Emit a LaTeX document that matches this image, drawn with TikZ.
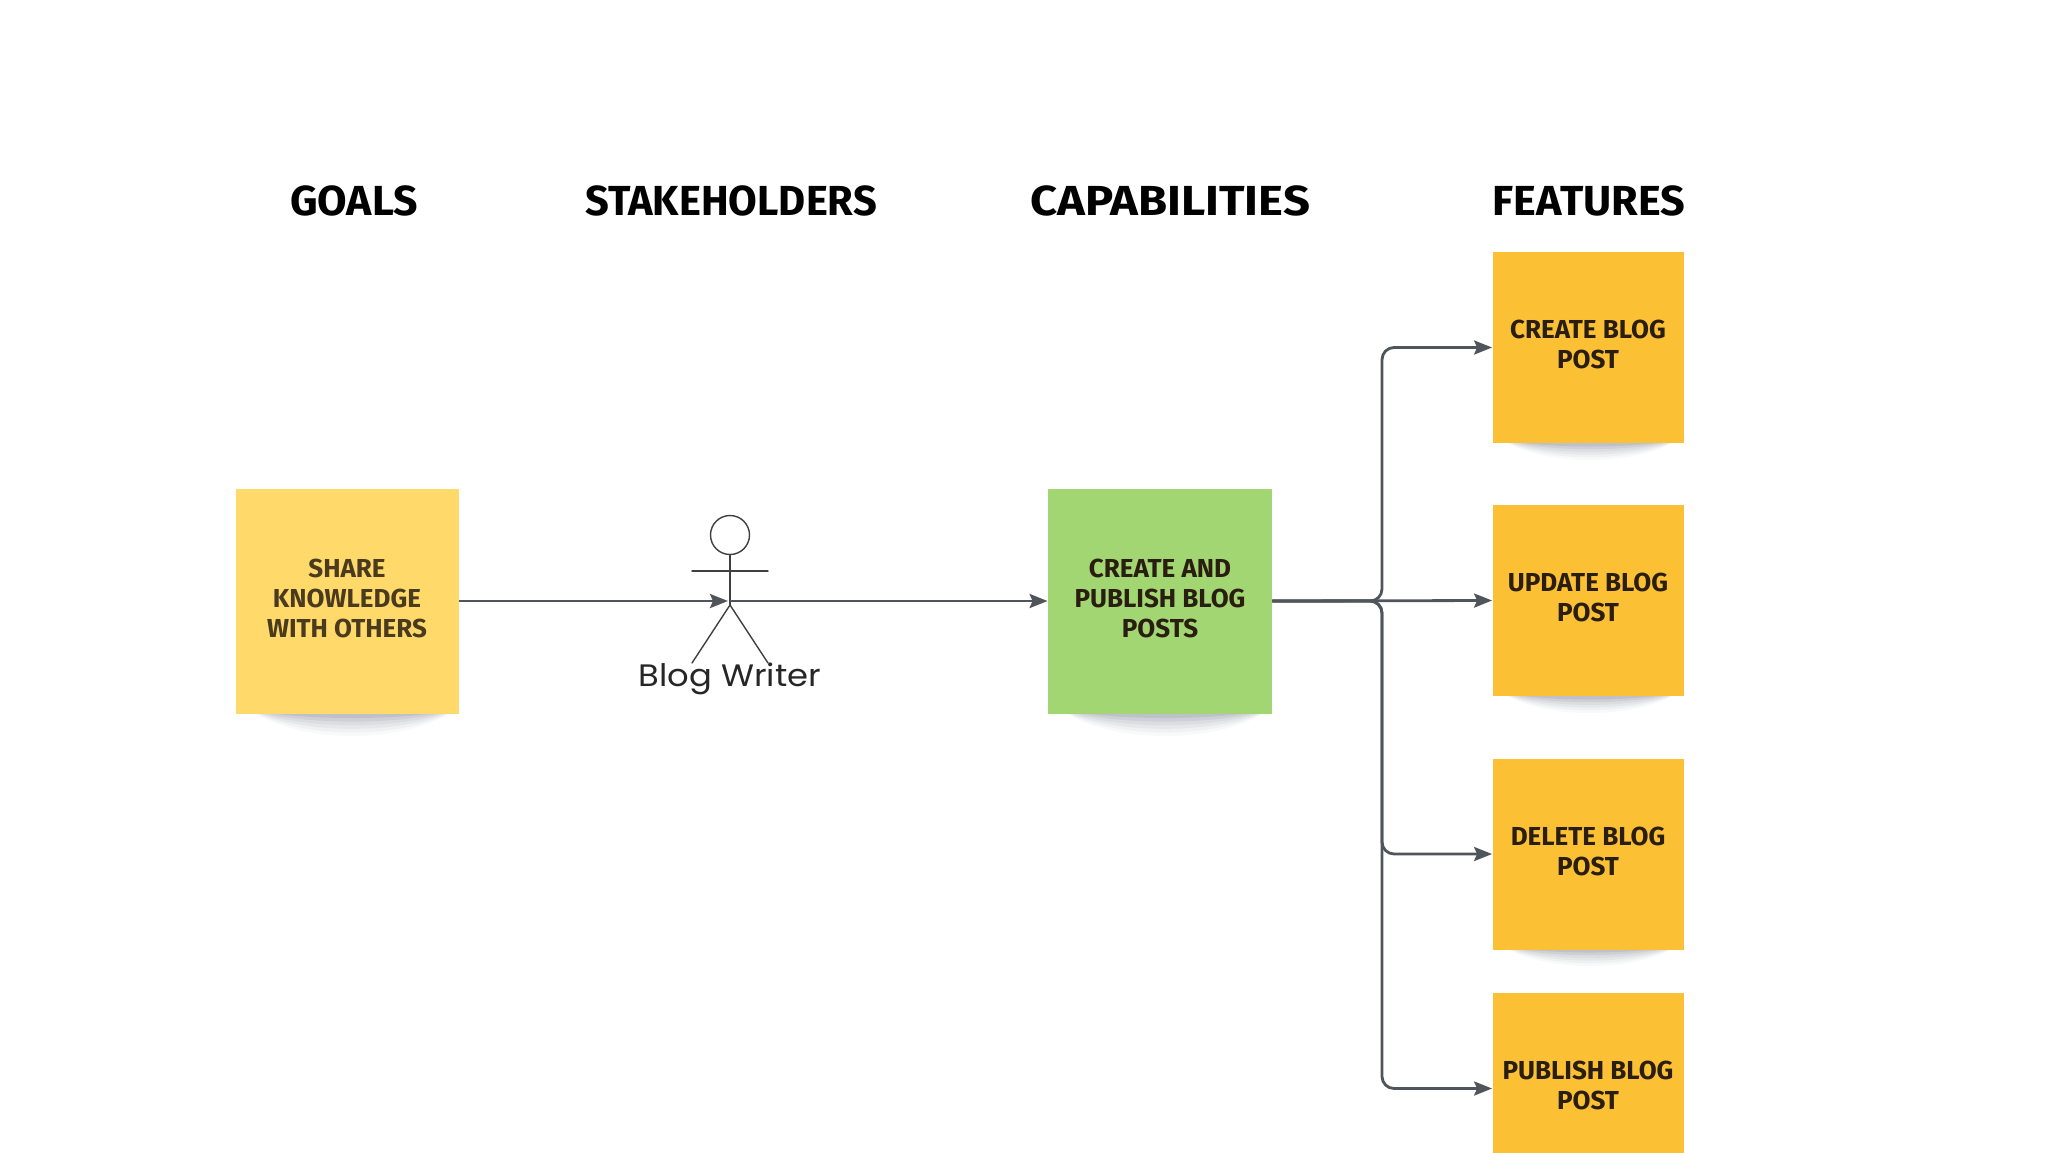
\documentclass[tikz,border=0pt]{standalone}
\usepackage{graphicx}
\usepackage{fontspec}
\setmainfont{Fira Sans}
\newfontfamily\actorfont{Poppins}
\usetikzlibrary{arrows.meta}
\definecolor{linegray}{HTML}{50555C}
\definecolor{goalfill}{HTML}{FFDA6B}
\definecolor{capfill}{HTML}{A2D672}
\definecolor{featfill}{HTML}{FBC034}
\definecolor{notetext}{HTML}{2A1E10}
\definecolor{shadowblue}{HTML}{3A4058}
\tikzset{
  x=0.5pt,y=-0.5pt,
  heading/.style={font=\fontsize{20}{23}\selectfont\bfseries,text=black,inner sep=0pt,anchor=center},
  note/.style={font=\fontsize{13}{15}\selectfont\bfseries,text=notetext,align=center,inner sep=0pt,anchor=center},
  goalnote/.style={note,fill=goalfill,minimum width=111.5pt,minimum height=112.5pt,text=notetext!85!goalfill},
  capnote/.style={note,fill=capfill,minimum width=112pt,minimum height=112.5pt},
  featnote/.style={note,fill=featfill,minimum width=95.5pt,minimum height=95.5pt},
  conn/.style={draw=linegray,line width=1.4pt,-{Stealth[length=9pt,width=7pt,inset=1.5pt]},rounded corners=6pt},
  stick/.style={draw=black!75,line width=0.7pt,line cap=round},
  actorlabel/.style={font=\actorfont\fontsize{15.5}{18}\selectfont,text=black!85,inner sep=0pt},
}
% lifts the lines of a note slightly above its centre
\newcommand{\notegap}{\\[-12pt]\mbox{}}
% crescent shadow: x-left, x-right, y-bottom of the note, depth factor
\newcommand{\noteshadow}[4]{%
  \foreach \d/\o in {1.0/0.03,0.85/0.04,0.7/0.05,0.55/0.06,0.4/0.08,0.25/0.10}{%
    \fill[shadowblue,opacity=\o] ({#1+4},{#3-4}) .. controls ({#1+0.25*#2-0.25*#1},{#3+\d*#4}) and ({#1+0.75*#2-0.75*#1},{#3+\d*#4}) .. ({#2-4},{#3-4}) -- cycle;
  }%
}
\begin{document}
\begin{tikzpicture}
\useasboundingbox (0,0) rectangle (2048,1152);
\clip (0,0) rectangle (2048,1152);
\fill[white] (0,0) rectangle (2048,1152);

\noteshadow{245}{460}{713}{32}
\noteshadow{1056}{1274}{713}{32}
\noteshadow{1497}{1683}{443}{24}
\noteshadow{1497}{1683}{696}{24}
\noteshadow{1497}{1683}{949}{24}

\node[heading] (hgoals) at (354,201) {\scalebox{1.07}[1.05]{GOALS}};
\node[heading] (hstake) at (731,201) {\scalebox{1.04}[1.05]{STAKEHOLDERS}};
\node[heading] (hcap) at (1170,201) {\scalebox{1.18}[1.05]{CAPABILITIES}};
\node[heading] (hfeat) at (1589,201) {\scalebox{1.08}[1.05]{FEATURES}};

\node[goalnote] (goal) at (347,601) {SHARE\\KNOWLEDGE\\WITH OTHERS\notegap};
\node[capnote] (cap) at (1160,601) {CREATE AND\\PUBLISH BLOG\\POSTS\notegap};
\node[featnote] (f1) at (1588,347.5) {CREATE BLOG\\POST\notegap};
\node[featnote] (f2) at (1588,600.5) {UPDATE BLOG\\POST\notegap};
\node[featnote] (f3) at (1588,854) {DELETE BLOG\\POST\notegap};
\node[featnote] (f4) at (1588,1088.5) {PUBLISH BLOG\\POST\notegap};

% actor
\node[circle,draw=black!75,line width=0.7pt,minimum size=19.5pt,inner sep=0pt] (head) at (730,535) {};
\coordinate (neck) at (730,554.5);
\coordinate (hip) at (730,605);
\coordinate (armL) at (692,571);
\coordinate (armR) at (768,571);
\coordinate (footL) at (692,663);
\coordinate (footR) at (768,663);
\coordinate (actorIn) at (728,601);
\coordinate (actorOut) at (730,601);
\draw[stick] (neck) -- (hip);
\draw[stick] (armL) -- (armR);
\draw[stick] (footL) -- (hip) -- (footR);
\node[actorlabel] (actor) at (730,679) {\scalebox{1.09}[1]{Blog Writer}};

\coordinate (bus) at (1382,601);
\draw[conn] (goal.east) -- (actorIn);
\draw[conn] (actorOut) -- (cap.west);
\draw[conn] (cap.east) -- (bus) |- (f1.west);
\draw[conn] (cap.east) -- (f2.west);
\draw[conn] (cap.east) -- (bus) |- (f3.west);
\draw[conn] (cap.east) -- (bus) |- (f4.west);
\end{tikzpicture}
\end{document}
